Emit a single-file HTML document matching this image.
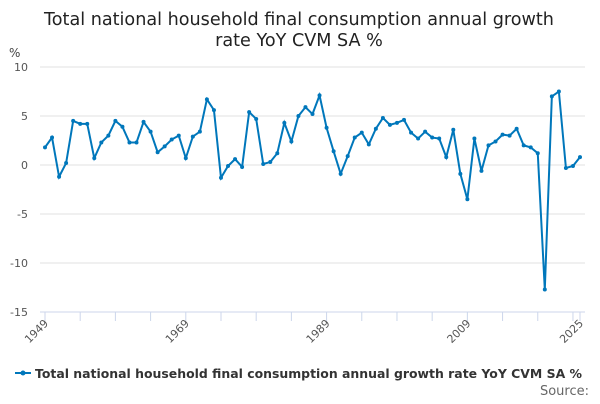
<!DOCTYPE html>
<html><head><meta charset="utf-8"><style>
body{margin:0;background:#fff;font-family:"DejaVu Sans",sans-serif}
</style></head><body>
<svg width="600" height="400" id="c" xmlns="http://www.w3.org/2000/svg" font-family="DejaVu Sans, sans-serif">
<text x="299" y="25" text-anchor="middle" font-size="17.6" fill="#222">Total national household final consumption annual growth</text>
<text x="299" y="46" text-anchor="middle" font-size="17.6" fill="#222">rate YoY CVM SA %</text>
<text x="9" y="57" font-size="12" fill="#444">%</text>
<g id="grid"></g><g id="xax"></g><g id="series"></g>
<g>
<line x1="15" y1="373" x2="31" y2="373" stroke="#0077bb" stroke-width="2"/>
<circle cx="23" cy="373" r="2.5" fill="#0077bb"/>
<text x="35" y="378" font-size="12.45" font-weight="bold" fill="#333">Total national household final consumption annual growth rate YoY CVM SA %</text>
</g>
<text x="589" y="395" text-anchor="end" font-size="13" fill="#666">Source:</text>
</svg>
<script>
const years=[];for(let y=1949;y<=2025;y++)years.push(y);
const values=[1.8,2.8,-1.2,0.2,4.5,4.2,4.2,0.7,2.3,3.0,4.5,3.9,2.3,2.3,4.4,3.4,1.3,1.9,2.6,3.0,0.7,2.9,3.4,6.7,5.6,-1.3,-0.1,0.6,-0.2,5.4,4.7,0.1,0.3,1.2,4.3,2.4,5.0,5.9,5.2,7.1,3.8,1.4,-0.9,0.9,2.8,3.3,2.1,3.7,4.8,4.1,4.3,4.6,3.3,2.7,3.4,2.8,2.7,0.8,3.6,-0.9,-3.5,2.7,-0.6,2.0,2.4,3.1,3.0,3.7,2.0,1.8,1.2,-12.7,7.0,7.5,-0.3,-0.1,0.8];
const yTicks=[10,5,0,-5,-10,-15];
const xLabels=[1949,1969,1989,2009,2025];
const NS="http://www.w3.org/2000/svg";
const X=y=>45+(y-1949)*(535/76);
const Y=v=>165-v*9.8;
function mk(t,a,p){const e=document.createElementNS(NS,t);for(const k in a)e.setAttribute(k,a[k]);p.appendChild(e);return e;}
const g=document.getElementById('grid'),xa=document.getElementById('xax'),s=document.getElementById('series');
yTicks.forEach(v=>{
 if(v>-15){const l=mk('line',{x1:40,x2:585,y1:Y(v),y2:Y(v),stroke:'#e0e0e0'},g);
 
 }
 const t=mk('text',{x:28,y:Y(v)+4,'text-anchor':'end','font-size':11,fill:'#555'},g);t.textContent=v;
 
 
});
const ax=mk('line',{x1:40,x2:585,y1:Y(-15),y2:Y(-15),stroke:'#ccd6eb'},xa);


const tk=[];for(let y=1949;y<=2025;y+=5)tk.push(y);tk.push(2025);
tk.forEach(y=>{const l=mk('line',{x1:X(y),x2:X(y),y1:312,y2:321,stroke:'#ccd6eb'},xa);
 
 });
xLabels.forEach(y=>{const t=mk('text',{x:X(y)+4,y:324,'text-anchor':'end','font-size':11,fill:'#555',transform:`rotate(-45 ${X(y)+4} 324)`},xa);t.textContent=y;
 
 });
const p=mk('polyline',{points:values.map((v,i)=>X(years[i])+','+Y(v)).join(' '),fill:'none',stroke:'#0077bb','stroke-width':2},s);


values.forEach((v,i)=>{const c=mk('circle',{cx:X(years[i]),cy:Y(v),r:2,fill:'#0077bb'},s);
 
 });
</script>
</body></html>
